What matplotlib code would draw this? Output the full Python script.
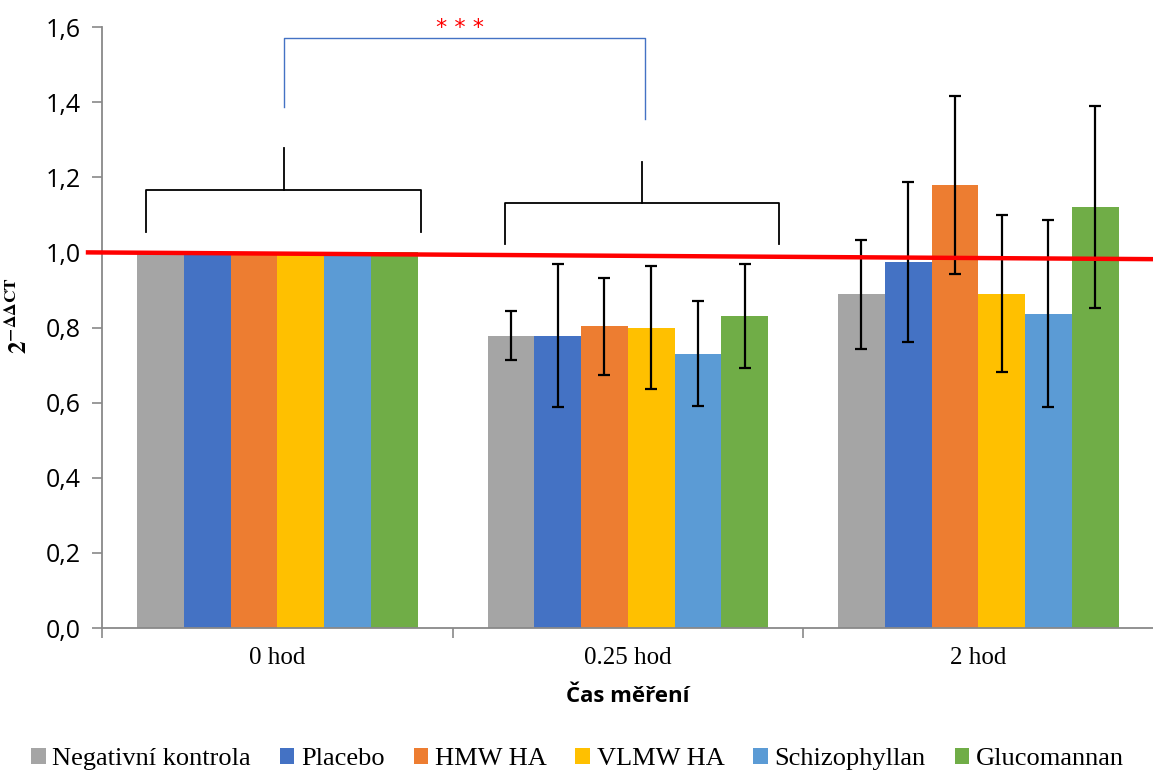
import numpy as np
import matplotlib
matplotlib.use("Agg")
import matplotlib.pyplot as plt

# data
categories = ["0 hod", "0.25 hod", "2 hod"]
groups = ["Negativní kontrola", "Placebo", "HMW HA", "VLMW HA", "Schizophyllan", "Glucomannan"]
colors = ["#A5A5A5", "#4472C4", "#ED7D31", "#FFC000", "#5B9BD5", "#70AD47"]

values = {
    "Negativní kontrola": [1.0, 0.778, 0.888],
    "Placebo": [1.0, 0.778, 0.974],
    "HMW HA": [1.0, 0.803, 1.180],
    "VLMW HA": [1.0, 0.799, 0.890],
    "Schizophyllan": [1.0, 0.730, 0.837],
    "Glucomannan": [1.0, 0.831, 1.121],
}
errors = {
    "Negativní kontrola": [0.0, 0.065, 0.145],
    "Placebo": [0.0, 0.190, 0.213],
    "HMW HA": [0.0, 0.130, 0.237],
    "VLMW HA": [0.0, 0.164, 0.209],
    "Schizophyllan": [0.0, 0.140, 0.249],
    "Glucomannan": [0.0, 0.138, 0.270],
}

plt.rcParams["mathtext.fontset"] = "stix"

fig = plt.figure(figsize=(11.53, 7.74), dpi=100)
ax = fig.add_axes([0.0885, 0.1886, 0.912, 0.7765])

x = np.arange(len(categories))
w = 0.8 / len(groups)
for i, g in enumerate(groups):
    pos = x + (i - 2.5) * w
    ax.bar(pos, values[g], width=w, color=colors[i], label=g, linewidth=0, zorder=2)
    err = np.array(errors[g])
    m = err > 0
    ax.errorbar(pos[m], np.array(values[g])[m], yerr=err[m], fmt="none",
                ecolor="black", elinewidth=1.6, capsize=4.5, capthick=1.6, zorder=3)

# red reference line
ax.plot([-0.54, 2.5], [1.0, 0.982], color="#FF0000", lw=3.2, clip_on=False, zorder=4)

# brackets
gr = "black"
ax.plot([-0.374, -0.374, 0.411, 0.411], [1.055, 1.166, 1.166, 1.055], color=gr, lw=1.3, zorder=4)
ax.plot([0.018, 0.018], [1.166, 1.277], color=gr, lw=1.3, zorder=4)
ax.plot([0.650, 0.650, 1.432, 1.432], [1.022, 1.132, 1.132, 1.022], color=gr, lw=1.3, zorder=4)
ax.plot([1.041, 1.041], [1.132, 1.241], color=gr, lw=1.3, zorder=4)
ax.plot([0.02, 0.02, 1.05, 1.05], [1.386, 1.572, 1.572, 1.356], color="#4472C4", lw=1.0, zorder=4)
ax.text(0.52, 1.598, "* * *", color="#FF0000", fontsize=16, ha="center", va="center",
        family="DejaVu Sans", clip_on=False)

ax.set_xlim(-0.5, 2.5)
ax.set_ylim(0, 1.6)
ax.set_yticks(np.arange(0, 1.61, 0.2))
ax.set_yticklabels([f"{v:.1f}".replace(".", ",") for v in np.arange(0, 1.61, 0.2)],
                   fontsize=18, family="Open Sans")
ax.set_xticks(x)
ax.set_xticklabels(categories, fontsize=18, family="Liberation Serif")
ax.set_xticks([-0.5, 0.5, 1.5, 2.5], minor=True)
ax.tick_params(axis="x", which="major", length=0, pad=14)
ax.tick_params(axis="x", which="minor", length=7, color="#898989", width=1.2)
ax.tick_params(axis="y", length=7, color="#898989", width=1.2, pad=8)

for s in ["top", "right"]:
    ax.spines[s].set_visible(False)
for s in ["left", "bottom"]:
    ax.spines[s].set_color("#898989")
    ax.spines[s].set_linewidth(1.3)

ax.set_xlabel("Čas měření", fontsize=16, fontweight="bold", family="Open Sans", labelpad=12)
ax.set_ylabel(r"$\mathbf{2^{-\Delta\Delta CT}}$", fontsize=18)
ax.yaxis.set_label_coords(-0.067, 0.52)

ax.legend(loc="center", bbox_to_anchor=(0.452, -0.218), ncol=6, frameon=False,
          prop={"family": "Liberation Serif", "size": 19}, handlelength=0.55,
          handleheight=0.55, handletextpad=0.25, columnspacing=1.1)

fig.savefig("out.png", dpi=100)
